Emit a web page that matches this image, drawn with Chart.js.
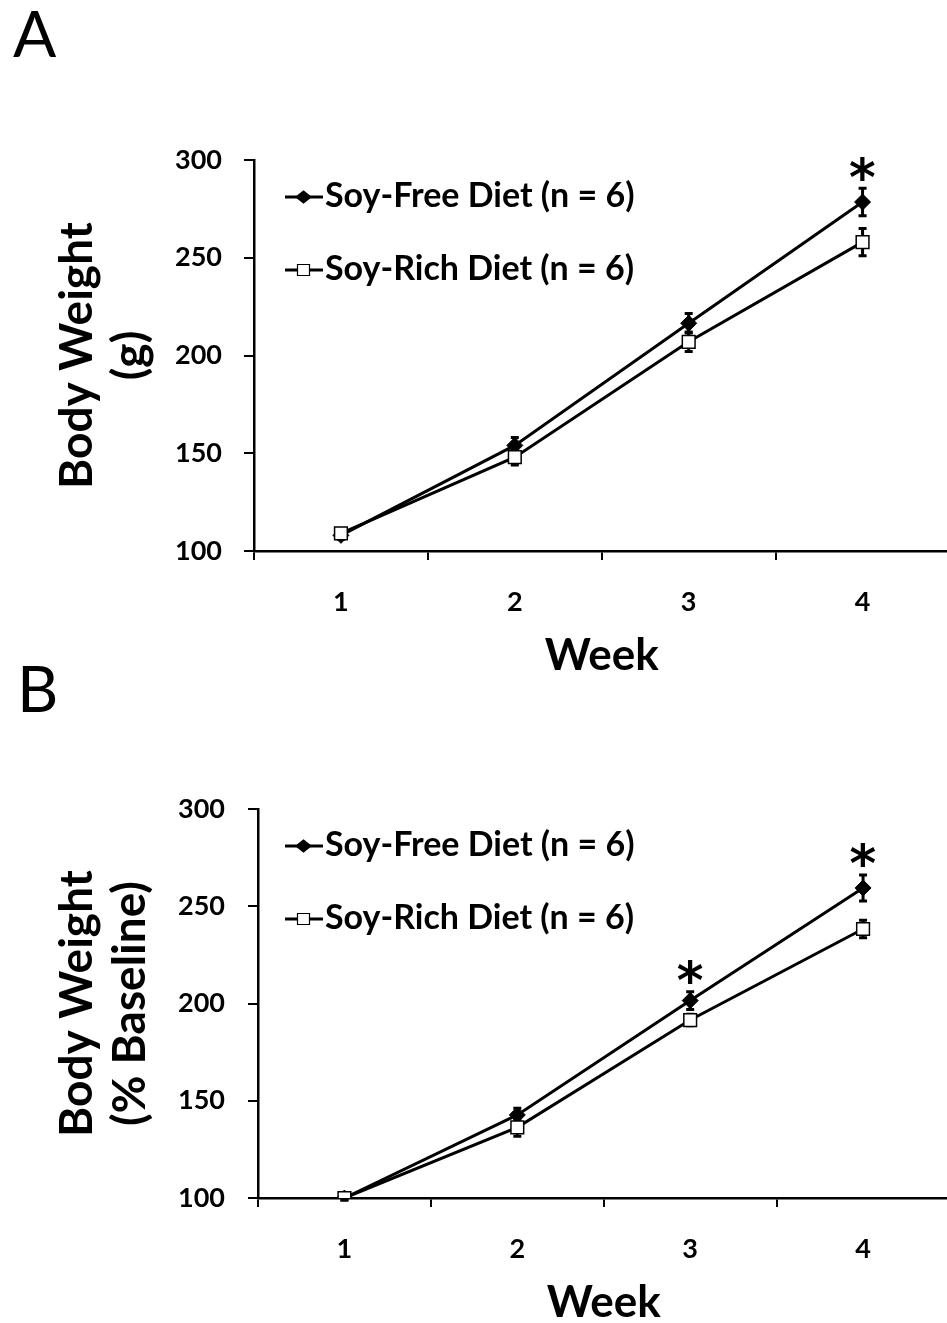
<!DOCTYPE html>
<html><head><meta charset="utf-8">
<script src="https://cdn.jsdelivr.net/npm/chart.js@4/dist/chart.umd.min.js"></script>
<style>
html,body{margin:0;padding:0;background:#fff;overflow:hidden;width:947px;height:1323px;}
canvas{position:absolute;left:0;}
#cA{top:0;z-index:1;} #cB{top:661px;z-index:2;}
</style></head><body>
<canvas id="cA" width="960" height="700"></canvas>
<canvas id="cB" width="960" height="662"></canvas>
<script>
// ---- data ----
const weeks = ['1', '2', '3', '4'];
const yTickValues = [100, 150, 200, 250, 300];
const seriesNames = ['Soy-Free Diet (n = 6)', 'Soy-Rich Diet (n = 6)'];

// Panel A: Body Weight (g)
const freeA = [108, 154, 216.5, 278.5];
const freeErrA = [2, 4, 5, 7];
const richA = [109, 148, 207, 258];
const richErrA = [2, 4, 5, 7];
const sigA = [false, false, false, true];

// Panel B: Body Weight (% Baseline)
const freeB = [100, 142.7, 201.5, 259.4];
const freeErrB = [1, 3.5, 4.6, 6.7];
const richB = [100, 136.3, 191.5, 238.3];
const richErrB = [1, 4.5, 3, 4.5];
const sigB = [false, false, true, true];

const FONT = 'Lato';

function extrasPlugin(p) {
  return {
    id: 'extras',
    beforeDatasetsDraw(chart) {
      const ctx = chart.ctx, ys = chart.scales.y;
      const errs = [p.freeErr, p.richErr];
      const vals = [p.free, p.rich];
      ctx.save();
      ctx.strokeStyle = '#000';
      ctx.lineWidth = 3;
      for (let d = 0; d < 2; d++) {
        const meta = chart.getDatasetMeta(d);
        meta.data.forEach((pt, i) => {
          const top = ys.getPixelForValue(vals[d][i] + errs[d][i]);
          const bot = ys.getPixelForValue(vals[d][i] - errs[d][i]);
          ctx.beginPath();
          ctx.moveTo(pt.x, top); ctx.lineTo(pt.x, bot);
          ctx.moveTo(pt.x - 4, top); ctx.lineTo(pt.x + 4, top);
          ctx.moveTo(pt.x - 4, bot); ctx.lineTo(pt.x + 4, bot);
          ctx.stroke();
        });
      }
      ctx.restore();
    },
    afterDatasetsDraw(chart) {
      const ctx = chart.ctx, ys = chart.scales.y;
      const meta = chart.getDatasetMeta(0);
      ctx.save();
      ctx.fillStyle = '#000';
      ctx.font = 'bold 100px "DejaVu Sans"';
      let m = ctx.measureText('*');
      const w100 = m.actualBoundingBoxLeft + m.actualBoundingBoxRight;
      const size = 100 * 25 / w100;
      ctx.font = 'bold ' + size + 'px "DejaVu Sans"';
      m = ctx.measureText('*');
      ctx.textAlign = 'left';
      ctx.textBaseline = 'alphabetic';
      p.sig.forEach((s, i) => {
        if (!s) return;
        const cx = meta.data[i].x;
        const cy = ys.getPixelForValue(p.free[i] + p.freeErr[i]) - 20;
        const bx = cx - (m.actualBoundingBoxRight - m.actualBoundingBoxLeft) / 2;
        const by = cy - (m.actualBoundingBoxDescent - m.actualBoundingBoxAscent) / 2;
        ctx.fillText('*', bx, by);
      });
      ctx.restore();
    },
    afterDraw(chart) {
      const ctx = chart.ctx;
      ctx.save();
      // panel letter
      ctx.fillStyle = '#000';
      ctx.font = '64px ' + FONT;
      ctx.textAlign = 'left';
      ctx.textBaseline = 'alphabetic';
      ctx.fillText(p.letter, p.letterX, p.letterY);
      // legend
      ctx.font = 'bold 34px ' + FONT;
      ctx.textBaseline = 'middle';
      p.legendY.forEach((ly, k) => {
        ctx.strokeStyle = '#000';
        ctx.lineWidth = 3;
        ctx.beginPath();
        ctx.moveTo(285, ly); ctx.lineTo(323, ly);
        ctx.stroke();
        const mx = 303.5;
        ctx.lineWidth = 1.2;
        if (k === 0) {
          ctx.fillStyle = '#000';
          ctx.beginPath();
          ctx.moveTo(mx - 7.5, ly); ctx.lineTo(mx, ly - 6);
          ctx.lineTo(mx + 7.5, ly); ctx.lineTo(mx, ly + 6);
          ctx.closePath(); ctx.fill(); ctx.stroke();
        } else {
          ctx.fillStyle = '#fff';
          ctx.beginPath();
          ctx.rect(mx - 6, ly - 5.5, 12, 11);
          ctx.fill(); ctx.stroke();
        }
        ctx.fillStyle = '#000';
        ctx.fillText(seriesNames[k], 325, ly - 1);
      });
      ctx.restore();
    }
  };
}

function makeChart(id, p) {
  return new Chart(document.getElementById(id), {
    type: 'line',
    data: {
      labels: weeks,
      datasets: [
        { label: seriesNames[0], data: p.free, borderColor: '#000', borderWidth: 3,
          pointStyle: 'rectRot', pointRadius: 8, pointBackgroundColor: '#000',
          pointBorderColor: '#000', pointBorderWidth: 1, tension: 0, order: 1 },
        { label: seriesNames[1], data: p.rich, borderColor: '#000', borderWidth: 3,
          pointStyle: 'rect', pointRadius: 9, pointBackgroundColor: '#fff',
          pointBorderColor: '#000', pointBorderWidth: 1.5, tension: 0, order: 0 }
      ]
    },
    options: {
      responsive: false, animation: false, devicePixelRatio: 1,
      layout: { padding: { top: p.top, left: 0, right: 0, bottom: 0 } },
      plugins: { legend: { display: false }, tooltip: { enabled: false } },
      scales: {
        x: {
          type: 'category', offset: true,
          grid: { offset: true, drawOnChartArea: false, drawTicks: true, tickLength: 9, color: '#000', lineWidth: 2 },
          border: { display: true, color: '#000', width: 2.5 },
          ticks: { color: '#000', padding: 26, font: { family: FONT, weight: 'bold', size: 27 } },
          title: { display: true, text: 'Week', color: '#000',
                   font: { family: FONT, weight: 'bold', size: 44, lineHeight: 0.8 },
                   padding: { top: 0, bottom: p.xTitlePad } },
          afterFit(s) { s.height = p.xH; }
        },
        y: {
          type: 'linear', min: yTickValues[0], max: yTickValues[yTickValues.length - 1],
          afterBuildTicks(s) { s.ticks = yTickValues.map(v => ({ value: v })); },
          grid: { drawOnChartArea: false, drawTicks: true, tickLength: 10, color: '#000', lineWidth: 2 },
          border: { display: true, color: '#000', width: 2.5 },
          ticks: { color: '#000', padding: p.yTickPad, font: { family: FONT, weight: 'bold', size: 27 } },
          title: { display: true, text: p.yTitle, color: '#000',
                   font: { family: FONT, weight: 'bold', size: 46, lineHeight: 1.15 },
                   padding: { top: 50.5, bottom: 0 } },
          afterFit(s) { s.width = p.yW; }
        }
      }
    },
    plugins: [extrasPlugin(p)]
  });
}

makeChart('cA', {
  free: freeA, freeErr: freeErrA, rich: richA, richErr: richErrA, sig: sigA,
  yTitle: ['Body Weight', '(g)'], top: 160, yW: 254, xH: 149, xTitlePad: 26.4, yTickPad: 22,
  letter: 'A', letterX: 13, letterY: 57, legendY: [197, 270]
});
makeChart('cB', {
  free: freeB, freeErr: freeErrB, rich: richB, richErr: richErrB, sig: sigB,
  yTitle: ['Body Weight', '(% Baseline)'], top: 148, yW: 258, xH: 125, xTitlePad: 2.4, yTickPad: 23,
  letter: 'B', letterX: 17, letterY: 51, legendY: [185, 258]
});
</script>
</body></html>
